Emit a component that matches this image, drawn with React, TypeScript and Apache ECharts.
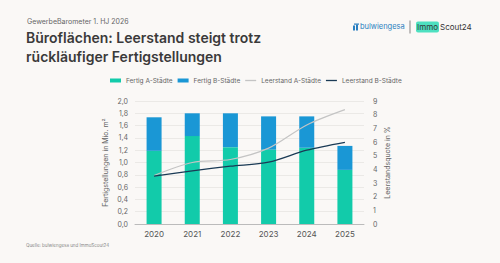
import React, { useEffect, useRef } from "react";
import * as echarts from "echarts";

const years = ["2020", "2021", "2022", "2023", "2024", "2025"];
const fertigA = [1.19, 1.43, 1.25, 1.21, 1.24, 0.88];
const fertigB = [0.545, 0.37, 0.55, 0.54, 0.51, 0.39];
const leerstandA = [3.55, 4.5, 4.72, 5.55, 7.25, 8.37];
const leerstandB = [3.5, 3.89, 4.23, 4.52, 5.4, 5.98];

const FONT = "Inter, 'Noto Sans', sans-serif";
const LINE_ICON = "path://M0,0H22V2.6H0Z";

export default function App() {
  const ref = useRef<HTMLDivElement>(null);
  useEffect(() => {
    const chart = echarts.init(ref.current!, null, { renderer: "svg" });
    chart.setOption({
      animation: false,
      backgroundColor: "#faf8f6",
      textStyle: { fontFamily: FONT },
      legend: {
        top: 77,
        left: 110,
        padding: 0,
        itemWidth: 11,
        itemHeight: 4,
        itemGap: 5,
        symbolKeepAspect: true,
        textStyle: { fontSize: 6.5, color: "#666", fontFamily: FONT },
        data: [
          { name: "Fertig A-Städte", icon: "rect" },
          { name: "Fertig B-Städte", icon: "rect" },
          { name: "Leerstand A-Städte", icon: LINE_ICON },
          { name: "Leerstand B-Städte", icon: LINE_ICON },
        ],
      },
      grid: { left: 135, right: 136, top: 101, bottom: 39, containLabel: false },
      xAxis: {
        type: "category",
        data: years,
        axisLine: { lineStyle: { color: "#bbb" } },
        axisTick: { show: false },
        axisLabel: { fontSize: 8, color: "#555", margin: 6, fontFamily: FONT },
      },
      yAxis: [
        {
          type: "value",
          min: 0,
          max: 2,
          interval: 0.2,
          name: "Fertigstellungen in Mio. m²",
          nameLocation: "middle",
          nameRotate: 90,
          nameGap: 26,
          nameTextStyle: { fontSize: 7, color: "#666", fontFamily: FONT },
          axisLabel: {
            fontSize: 7,
            color: "#666",
            margin: 7,
            formatter: (v: number) => v.toFixed(1).replace(".", ","),
          },
          splitLine: { lineStyle: { color: "#e4e2e0", width: 0.7 } },
          axisLine: { show: false },
          axisTick: { show: false },
        },
        {
          type: "value",
          min: 0,
          max: 9,
          interval: 1,
          name: "Leerstandsquote in %",
          nameLocation: "middle",
          nameRotate: 90,
          nameGap: 20,
          nameTextStyle: { fontSize: 7, color: "#666", fontFamily: FONT },
          axisLabel: { fontSize: 7, color: "#666", margin: 9 },
          splitLine: { show: false },
          axisLine: { show: false },
          axisTick: { show: false },
        },
      ],
      series: [
        {
          name: "Fertig A-Städte",
          type: "bar",
          stack: "f",
          data: fertigA,
          barWidth: 15,
          itemStyle: { color: "#12cbaa" },
        },
        {
          name: "Fertig B-Städte",
          type: "bar",
          stack: "f",
          data: fertigB,
          barWidth: 15,
          itemStyle: { color: "#1a97d5" },
        },
        {
          name: "Leerstand A-Städte",
          type: "line",
          yAxisIndex: 1,
          data: leerstandA,
          smooth: 0.3,
          symbol: "none",
          lineStyle: { color: "#c4c4c4", width: 1.2 },
          itemStyle: { color: "#c4c4c4" },
        },
        {
          name: "Leerstand B-Städte",
          type: "line",
          yAxisIndex: 1,
          data: leerstandB,
          smooth: 0.3,
          symbol: "none",
          lineStyle: { color: "#1a3a55", width: 1.3 },
          itemStyle: { color: "#1a3a55" },
        },
      ],
      graphic: [
        {
          type: "text",
          left: 27,
          top: 18,
          style: { text: "GewerbeBarometer 1. HJ 2026", fontSize: 7, fill: "#666", fontFamily: FONT },
        },
        {
          type: "text",
          left: 26,
          top: 28,
          style: {
            text: "Büroflächen: Leerstand steigt trotz\nrückläufiger Fertigstellungen",
            fontSize: 14,
            lineHeight: 19,
            fontWeight: 600,
            fill: "#3a3a3a",
            fontFamily: FONT,
          },
        },
        {
          type: "group",
          left: 353,
          top: 18,
          children: [
            { type: "rect", shape: { x: 0, y: 3, width: 2, height: 5 }, style: { fill: "#2a7fc0" } },
            { type: "rect", shape: { x: 3, y: 2, width: 2, height: 6 }, style: { fill: "#2a7fc0" } },
            { type: "rect", shape: { x: 1, y: 1, width: 5, height: 1.2 }, style: { fill: "#2a7fc0" } },
            {
              type: "text",
              x: 7,
              y: 0,
              style: { text: "bulwiengesa", fontSize: 7.5, fill: "#2a7fc0", fontFamily: FONT },
            },
            { type: "line", shape: { x1: 57, y1: -2, x2: 57, y2: 11 }, style: { stroke: "#555", lineWidth: 0.7 } },
            { type: "rect", shape: { x: 63, y: -1, width: 23, height: 11, r: 2 }, style: { fill: "#4de0c0" } },
            {
              type: "text",
              x: 64,
              y: 0,
              style: { text: "Immo", fontSize: 8, fill: "#333", fontFamily: FONT },
            },
            {
              type: "text",
              x: 87,
              y: 0,
              style: { text: "Scout24", fontSize: 8, fill: "#333", fontFamily: FONT },
            },
          ],
        },
        {
          type: "text",
          left: 26,
          top: 243,
          style: { text: "Quelle: bulwiengesa und ImmoScout24", fontSize: 4.5, fill: "#888", fontFamily: FONT },
        },
      ],
    });
    return () => chart.dispose();
  }, []);
  return <div ref={ref} style={{ width: 500, height: 263, position: "fixed", left: 0, top: 0 }} />;
}
